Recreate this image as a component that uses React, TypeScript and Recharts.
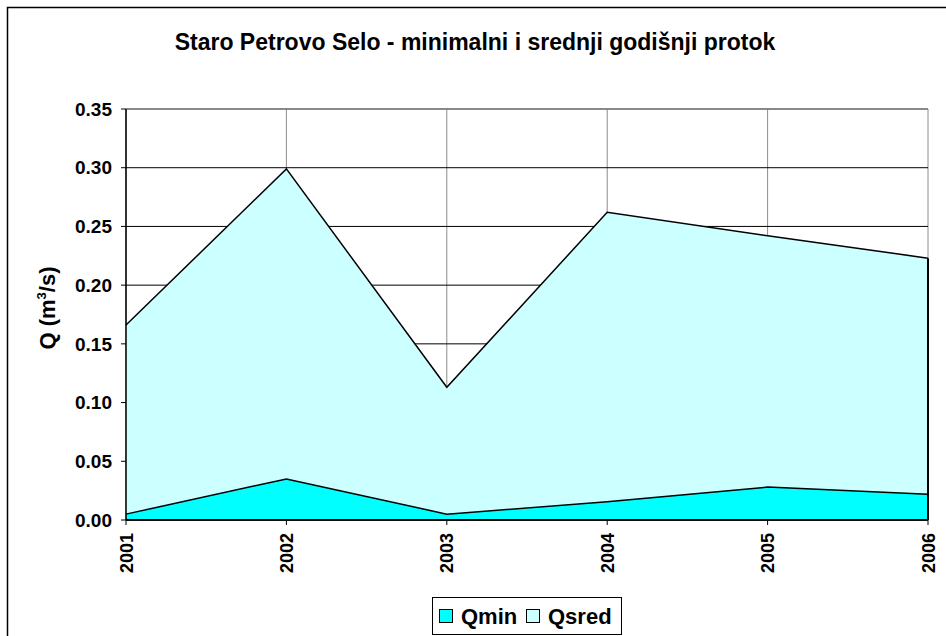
import React from "react";
import {
  AreaChart,
  Area,
  XAxis,
  YAxis,
  CartesianGrid,
  ReferenceLine,
} from "recharts";

const years = ["2001", "2002", "2003", "2004", "2005", "2006"];
const qMin = [0.005, 0.035, 0.005, 0.0155, 0.028, 0.022];
const qSred = [0.166, 0.299, 0.113, 0.262, 0.242, 0.223];
const yTicks = [0, 0.05, 0.1, 0.15, 0.2, 0.25, 0.3, 0.35];
const legendItems = [
  { label: "Qmin", color: "#00FFFF" },
  { label: "Qsred", color: "#CCFFFF" },
];

const MIN_COLOR = legendItems[0].color;
const SRED_COLOR = legendItems[1].color;
const FONT = "Arial, 'Liberation Sans', sans-serif";
const TITLE = "Staro Petrovo Selo - minimalni i srednji godišnji protok";

const data = years.map((year, i) => ({ year, qmin: qMin[i], qsred: qSred[i] }));

function YearTick({ x, y, payload }: { x?: number; y?: number; payload?: { value: string } }) {
  return (
    <text
      x={0}
      y={0}
      transform={`translate(${(x ?? 0) + 6.5},${(y ?? 0) + 6}) rotate(-90)`}
      textAnchor="end"
      fontFamily={FONT}
      fontWeight="bold"
      fontSize={18}
      fill="#000"
    >
      {payload?.value}
    </text>
  );
}

// title, y label, legend and outer frame drawn on top of the chart
function Overlay() {
  return (
    <svg
      width={946}
      height={636}
      style={{ position: "absolute", left: 0, top: 0, pointerEvents: "none" }}
    >
      <path d="M7.5,640 L7.5,7.5 L950,7.5" fill="none" stroke="#000" strokeWidth={1.5} />
      <text
        x={475}
        y={50}
        textAnchor="middle"
        fontFamily={FONT}
        fontWeight="bold"
        fontSize={23}
        fill="#000"
      >
        {TITLE}
      </text>
      <text
        transform="translate(55,308) rotate(-90)"
        textAnchor="middle"
        fontFamily={FONT}
        fontWeight="bold"
        fontSize={22}
        fill="#000"
      >
        Q (m
        <tspan dy={-9} fontSize={13}>3</tspan>
        <tspan dy={9}>/s)</tspan>
      </text>
      <rect x={432.5} y={597.5} width={189} height={37} fill="#fff" stroke="#000" />
      {legendItems.map((it, i) => {
        const x0 = i === 0 ? 439 : 526;
        return (
          <g key={it.label}>
            <rect x={x0 + 0.5} y={609.5} width={13} height={13} fill={it.color} stroke="#000" />
            <text
              x={x0 + 22}
              y={624}
              fontFamily={FONT}
              fontWeight="bold"
              fontSize={22}
              fill="#000"
            >
              {it.label}
            </text>
          </g>
        );
      })}
    </svg>
  );
}

export default function App() {
  return (
    <div
      style={{
        position: "fixed",
        left: 0,
        top: 0,
        width: 946,
        height: 636,
        overflow: "hidden",
        background: "#fff",
      }}
    >
      <div style={{ position: "absolute", left: 0, top: 0 }}>
        <AreaChart
          width={946}
          height={636}
          data={data}
          margin={{ top: 109, right: 18, left: 66, bottom: 46 }}
        >
          <CartesianGrid horizontal={false} vertical={true} stroke="#8c8c8c" strokeOpacity={1} />
          <CartesianGrid horizontal={true} vertical={false} stroke="#000" strokeOpacity={1} />
          <ReferenceLine y={0.35} stroke="#8c8c8c" strokeWidth={1.5} />
          <XAxis
            dataKey="year"
            padding={{ left: 0, right: 0 }}
            height={70}
            tick={<YearTick />}
            tickLine={{ stroke: "#000" }}
            axisLine={{ stroke: "#000", strokeWidth: 2 }}
            tickSize={5}
            interval={0}
          />
          <YAxis
            domain={[0, 0.35]}
            ticks={yTicks}
            width={60}
            tickFormatter={(v: number) => v.toFixed(2)}
            tick={{ fontFamily: FONT, fontWeight: "bold", fontSize: 19, fill: "#000" }}
            tickLine={{ stroke: "#000" }}
            axisLine={{ stroke: "#000", strokeWidth: 1.5 }}
            tickSize={5}
            tickMargin={9}
          />
          <Area
            type="linear"
            dataKey="qsred"
            stroke="#000"
            strokeWidth={1.5}
            fill={SRED_COLOR}
            fillOpacity={1}
            dot={false}
            activeDot={false}
            isAnimationActive={false}
          />
          <Area
            type="linear"
            dataKey="qmin"
            stroke="#000"
            strokeWidth={1.5}
            fill={MIN_COLOR}
            fillOpacity={1}
            dot={false}
            activeDot={false}
            isAnimationActive={false}
          />
          <ReferenceLine
            segment={[
              { x: years[years.length - 1], y: 0 },
              { x: years[years.length - 1], y: qSred[qSred.length - 1] },
            ]}
            stroke="#000"
            strokeWidth={2}
          />
        </AreaChart>
      </div>
      <Overlay />
    </div>
  );
}
